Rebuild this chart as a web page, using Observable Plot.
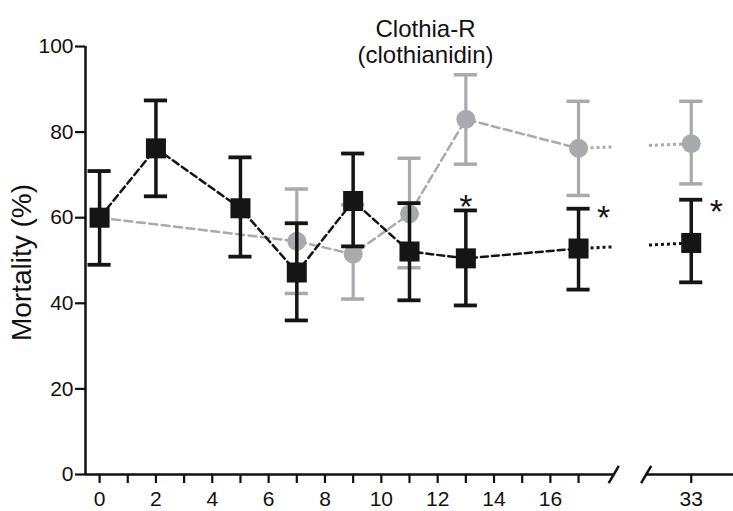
<!DOCTYPE html>
<html><head><meta charset="utf-8">
<script src="https://cdn.jsdelivr.net/npm/d3@7"></script>
<script src="https://cdn.jsdelivr.net/npm/@observablehq/plot@0.6"></script>
<style>html,body{margin:0;padding:0;background:#fff}</style>
</head><body><div id="chart"></div>
<script>
// ---- data ----
const days       = [0, 2, 5, 7, 9, 11, 13, 17, 33];
const blackMean  = [60, 76.2, 62.2, 47.2, 63.9, 52.1, 50.5, 52.8, 54.1];
const blackLow   = [49, 65, 50.9, 36, 53.3, 40.7, 39.5, 43.2, 44.9];
const blackHigh  = [70.9, 87.4, 74.1, 58.7, 75, 63.4, 61.7, 62.1, 64.2];

const grayDays   = [0, 7, 9, 11, 13, 17, 33];
const grayMean   = [60, 54.5, 51.5, 60.9, 83, 76.2, 77.3];
const grayLow    = [null, 42.3, 41, 48.3, 72.5, 65.2, 67.9];
const grayHigh   = [null, 66.7, 63, 73.9, 93.4, 87.2, 87.2];

const starDays   = [13, 17, 33];
const starY      = [64.5, 62, 63.5];

const yTicks     = [0, 20, 40, 60, 80, 100];
const xTickDays  = d3.range(0, 18).concat([33]);
const xLabelDays = [0, 2, 4, 6, 8, 10, 12, 14, 16, 33];

const titleLines = ["Clothia-R", "(clothianidin)"];
const yLabel = "Mortality (%)";

// ---- broken axis mapping ----
const breakDay = 17, breakShift = 12;          // day 33 drawn at position 21
const pos = d => d <= breakDay ? d : d - breakShift;
const xDomain = [-0.5, 22.5];
const breakMarks = [18.25, 19.4];               // the two slashes
const gapEnds = [18.2, 19.5];                   // dotted lines stop/start here

const BLACK = "#151515", GRAY = "#a9aaad";

function rows(ds, m, lo, hi) {
  return ds.map((d, i) => ({day: d, x: pos(d), y: m[i], lo: lo[i], hi: hi[i]}));
}
const black = rows(days, blackMean, blackLow, blackHigh);
const gray = rows(grayDays, grayMean, grayLow, grayHigh);

function dottedSegs(r) {
  const a = r.find(d => d.day === breakDay), b = r[r.length - 1];
  const at = p => a.y + (b.y - a.y) * (p - a.x) / (b.x - a.x);
  return [
    {x1: a.x, y1: a.y, x2: gapEnds[0], y2: at(gapEnds[0])},
    {x1: gapEnds[1], y1: at(gapEnds[1]), x2: b.x, y2: b.y}
  ];
}
const capHalf = 0.41;
const grayErr = gray.filter(d => d.lo != null);
const slashes = breakMarks.map(p => ({x1: p - 0.18, y1: -2, x2: p + 0.18, y2: 2}));
const labelSet = new Map(xLabelDays.map(d => [pos(d), String(d)]));
const stars = starDays.map((d, i) => ({x: pos(d), y: starY[i], day: d}));

const chart = Plot.plot({
  width: 733, height: 511,
  marginLeft: 85, marginRight: 0, marginTop: 46, marginBottom: 37,
  style: {fontFamily: "'Liberation Sans', Arial, sans-serif", fontSize: "21px", background: "#fff", color: "#111"},
  x: {domain: xDomain},
  y: {domain: [0, 100]},
  marks: [
    // gray series
    Plot.line(gray.filter(d => d.day <= breakDay), {x: "x", y: "y", stroke: GRAY, strokeWidth: 2.5, strokeDasharray: "8,4.5"}),
    Plot.link(dottedSegs(gray), {x1: "x1", y1: "y1", x2: "x2", y2: "y2", stroke: GRAY, strokeWidth: 3, strokeDasharray: "3,3"}),
    Plot.ruleX(grayErr, {x: "x", y1: "lo", y2: "hi", stroke: GRAY, strokeWidth: 3.2}),
    Plot.ruleY(grayErr, {y: "hi", x1: d => d.x - capHalf, x2: d => d.x + capHalf, stroke: GRAY, strokeWidth: 3.5}),
    Plot.ruleY(grayErr, {y: "lo", x1: d => d.x - capHalf, x2: d => d.x + capHalf, stroke: GRAY, strokeWidth: 3.5}),
    Plot.dot(gray, {x: "x", y: "y", r: 9.5, fill: GRAY, stroke: "none"}),
    // black series
    Plot.line(black.filter(d => d.day <= breakDay), {x: "x", y: "y", stroke: BLACK, strokeWidth: 2.5, strokeDasharray: "7,4"}),
    Plot.link(dottedSegs(black), {x1: "x1", y1: "y1", x2: "x2", y2: "y2", stroke: BLACK, strokeWidth: 3, strokeDasharray: "3,3"}),
    Plot.ruleX(black, {x: "x", y1: "lo", y2: "hi", stroke: BLACK, strokeWidth: 3.5}),
    Plot.ruleY(black, {y: "hi", x1: d => d.x - capHalf, x2: d => d.x + capHalf, stroke: BLACK, strokeWidth: 3.8}),
    Plot.ruleY(black, {y: "lo", x1: d => d.x - capHalf, x2: d => d.x + capHalf, stroke: BLACK, strokeWidth: 3.8}),
    Plot.dot(black, {x: "x", y: "y", r: 11.3, symbol: "square", fill: BLACK, stroke: "none"}),
    // significance stars
    Plot.text(stars.filter(d => d.day === 13), {x: "x", y: "y", text: () => "*", fontSize: 34, dy: 9, fill: BLACK}),
    Plot.text(stars.filter(d => d.day !== 13), {x: "x", y: "y", text: () => "*", fontSize: 34, dx: 25, dy: 9, fill: BLACK}),
    // axes
    Plot.ruleX([xDomain[0]], {y1: 0, y2: 100, stroke: "#111", strokeWidth: 2.5}),
    Plot.ruleY([0], {x1: xDomain[0], x2: breakMarks[0], stroke: "#111", strokeWidth: 2.5}),
    Plot.ruleY([0], {x1: breakMarks[1], x2: xDomain[1], stroke: "#111", strokeWidth: 2.5}),
    Plot.link(slashes, {x1: "x1", y1: "y1", x2: "x2", y2: "y2", stroke: "#111", strokeWidth: 2.5}),
    Plot.axisY({ticks: yTicks, tickSize: 10, tickPadding: 2, strokeWidth: 2.2, label: null, fontSize: 21}),
    Plot.axisX({ticks: xTickDays.map(pos), tickSize: 9, tickPadding: 8, strokeWidth: 2.2, label: null, fontSize: 21,
                tickFormat: p => labelSet.get(p) ?? ""}),
    // y label
    Plot.text([yLabel], {frameAnchor: "left", textAnchor: "middle", text: d => d, rotate: -90, dx: -63, dy: 2, fontSize: 28, letterSpacing: "1.5px"}),
    // title
    Plot.text([titleLines.join("\n")], {frameAnchor: "top", text: d => d, dx: 16, dy: -29, lineAnchor: "top", lineHeight: 1.12, fontSize: 24})
  ]
});
document.getElementById("chart").appendChild(chart);
</script>
</body></html>
